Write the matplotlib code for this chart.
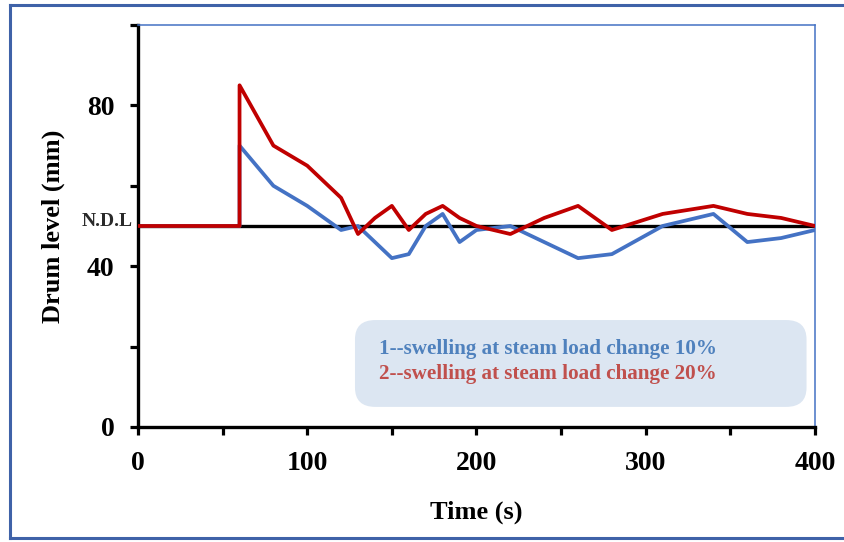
import matplotlib
matplotlib.use("Agg")
import matplotlib.pyplot as plt
from matplotlib.patches import FancyBboxPatch
from matplotlib.lines import Line2D

plt.rcParams['font.family'] = ['Liberation Serif', 'DejaVu Serif']
plt.rcParams['font.weight'] = 'bold'
plt.rcParams['axes.labelweight'] = 'bold'

# drum level response (mm) vs time (s)
t_20 = [0, 60, 60, 80, 100, 120, 130, 140, 150, 160, 170, 180, 190, 200,
        220, 240, 260, 280, 310, 340, 360, 380, 400]
level_20 = [50, 50, 85, 70, 65, 57, 48, 52, 55, 49, 53, 55, 52, 50,
            48, 52, 55, 49, 53, 55, 53, 52, 50]
t_10 = [0, 60, 60, 80, 100, 120, 130, 150, 160, 170, 180, 190, 200,
        220, 260, 280, 310, 340, 360, 380, 400]
level_10 = [50, 50, 70, 60, 55, 49, 50, 42, 43, 50, 53, 46, 49,
            50, 42, 43, 50, 53, 46, 47, 49]
ndl = 50
legend_lines = ['1--swelling at steam load change 10%',
                '2--swelling at steam load change 20%']
xticks = [0, 100, 200, 300, 400]
yticks = [0, 40, 80]

fig = plt.figure(figsize=(8.45, 5.42), dpi=100)
ax = fig.add_axes([0.1633, 0.2122, 0.8012, 0.7417])

ax.axhline(ndl, color='black', lw=2.4, zorder=1)
ax.plot(t_10, level_10, color='#4472c4', lw=2.7, zorder=2)
ax.plot(t_20, level_20, color='#c00000', lw=2.7, zorder=3)

ax.set_xlim(0, 400)
ax.set_ylim(0, 100)
ax.set_xticks(range(0, 401, 50))
ax.set_xticklabels([str(v) if v in xticks else '' for v in range(0, 401, 50)])
ax.set_yticks(range(0, 101, 20))
ax.set_yticklabels([str(v) if v in yticks else '' for v in range(0, 101, 20)])
ax.tick_params(direction='out', length=6, width=2.3, labelsize=20, pad=11)

for s in ('left', 'bottom'):
    ax.spines[s].set_linewidth(2.4)
    ax.spines[s].set_color('black')
for s in ('top', 'right'):
    ax.spines[s].set_linewidth(1.1)
    ax.spines[s].set_color('#4472c4')

ax.set_xlabel('Time (s)', fontsize=19, labelpad=18)
ax.set_ylabel('Drum level (mm)', fontsize=19, labelpad=16)

# normal drum level marker
ax.text(-0.008, ndl + 1.2, 'N.D.L', transform=ax.get_yaxis_transform(),
        ha='right', va='center', fontsize=14, color='#2a2a2a')

box = FancyBboxPatch((0.3205, 0.05), 0.667, 0.216,
                     boxstyle='round,pad=0,rounding_size=0.03',
                     transform=ax.transAxes, facecolor='#dce6f2',
                     edgecolor='none', mutation_aspect=1.6, zorder=4)
ax.add_patch(box)
ax.text(0.356, 0.1816, legend_lines[0], transform=ax.transAxes,
        color='#4f81bd', fontsize=15.2, va='baseline', zorder=5)
ax.text(0.356, 0.119, legend_lines[1], transform=ax.transAxes,
        color='#c0504d', fontsize=15.2, va='baseline', zorder=5)

# outer frame
fc = '#3f62a8'
for xs, ys in [([10 / 845, 1], [1 - 5 / 542] * 2),
               ([10 / 845] * 2, [1 - 5 / 542, 1 - 538 / 542]),
               ([10 / 845, 1], [1 - 538 / 542] * 2)]:
    fig.add_artist(Line2D(xs, ys, color=fc, lw=2.2, transform=fig.transFigure))

fig.savefig('out.png', dpi=100)
